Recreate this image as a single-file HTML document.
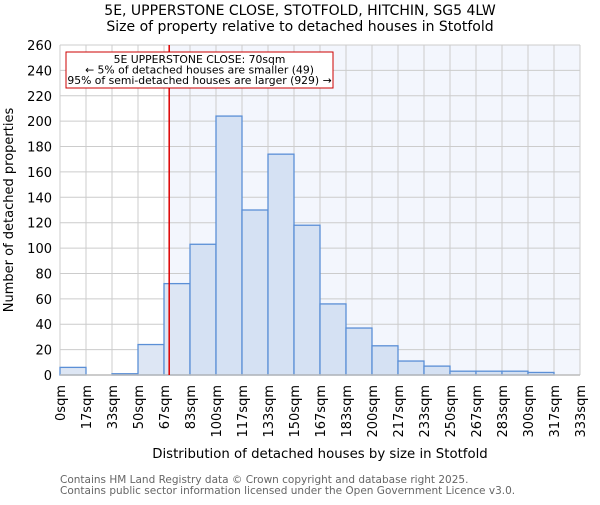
<!DOCTYPE html>
<html><head><meta charset="utf-8"><style>
body{margin:0;background:#fff;}
svg text{font-family:"DejaVu Sans","Liberation Sans",sans-serif;}
</style></head><body>
<svg id="chart" width="600" height="500" xmlns="http://www.w3.org/2000/svg">
<text x="300" y="15" font-size="14" text-anchor="middle">5E, UPPERSTONE CLOSE, STOTFOLD, HITCHIN, SG5 4LW</text>
<text x="300" y="31" font-size="14" text-anchor="middle">Size of property relative to detached houses in Stotfold</text>
<g id="plot"></g>
<text x="320" y="458" font-size="13.3" text-anchor="middle">Distribution of detached houses by size in Stotfold</text>
<text transform="translate(13,210) rotate(-90)" font-size="13" text-anchor="middle">Number of detached properties</text>
<text x="60" y="483" font-size="10.5" fill="#666">Contains HM Land Registry data © Crown copyright and database right 2025.</text>
<text x="60" y="494" font-size="10.5" fill="#666">Contains public sector information licensed under the Open Government Licence v3.0.</text>
</svg>
<script>
const binLabels=["0sqm","17sqm","33sqm","50sqm","67sqm","83sqm","100sqm","117sqm","133sqm","150sqm","167sqm","183sqm","200sqm","217sqm","233sqm","250sqm","267sqm","283sqm","300sqm","317sqm","333sqm"];
const counts=[6,0,1,24,72,103,204,130,174,118,56,37,23,11,7,3,3,3,2,0];
const yTicks=[0,20,40,60,80,100,120,140,160,180,200,220,240,260];
const binWidth=16.667;
const subjectSize=70;
const annotationLines=["5E UPPERSTONE CLOSE: 70sqm","← 5% of detached houses are smaller (49)","95% of semi-detached houses are larger (929) →"];

const NS="http://www.w3.org/2000/svg";
const L=60,R=580,T=45,B=375,yMax=260;
const nb=counts.length;
const xs=v=>L+(v/(binWidth*nb))*(R-L);
const xi=i=>L+i*(R-L)/nb;
const ys=v=>B-v/yMax*(B-T);
const g=document.getElementById('plot');
function mk(tag,attrs){const e=document.createElementNS(NS,tag);for(const k in attrs)e.setAttribute(k,attrs[k]);g.appendChild(e);return e;}
const sx=xs(subjectSize);
let e=mk('rect',{x:sx,y:T,width:R-sx,height:B-T,fill:'#f3f6fd'});


yTicks.forEach(t=>{
 let l=mk('line',{x1:L,x2:R,y1:ys(t),y2:ys(t),stroke:'#cccccc','stroke-width':1});
 
 
 let tx=mk('text',{x:L-8,y:ys(t)+5,'font-size':13,'text-anchor':'end'});
 tx.textContent=t;
 
 
});
binLabels.forEach((lab,i)=>{
 let l=mk('line',{x1:xi(i),x2:xi(i),y1:T,y2:B,stroke:'#cccccc','stroke-width':1});
 
 
 let tx=mk('text',{transform:`translate(${xi(i)+5},385) rotate(-90)`,'font-size':13,'text-anchor':'end'});
 tx.textContent=lab;
 
 
});
counts.forEach((c,i)=>{
 if(c<=0)return;
 let r=mk('rect',{x:xi(i),y:ys(c),width:xi(i+1)-xi(i),height:B-ys(c),fill:xi(i)>=sx?'#d5e1f3':'#dde6f4',stroke:'#5b8fd6','stroke-width':1.3});
 
 
});
e=mk('line',{x1:L,x2:R,y1:B,y2:B,stroke:'#bbbbbb','stroke-width':1.5});


e=mk('line',{x1:sx,x2:sx,y1:T,y2:B,stroke:'#dd0000','stroke-width':1.5});


e=mk('rect',{x:66,y:52,width:267,height:36,fill:'#fff',stroke:'#cc0000','stroke-width':1});


annotationLines.forEach((s,k)=>{
 let tx=mk('text',{x:199.5,y:63+k*10.5,'font-size':10.8,'text-anchor':'middle'});
 tx.textContent=s;
 
 
});
</script>
</body></html>
